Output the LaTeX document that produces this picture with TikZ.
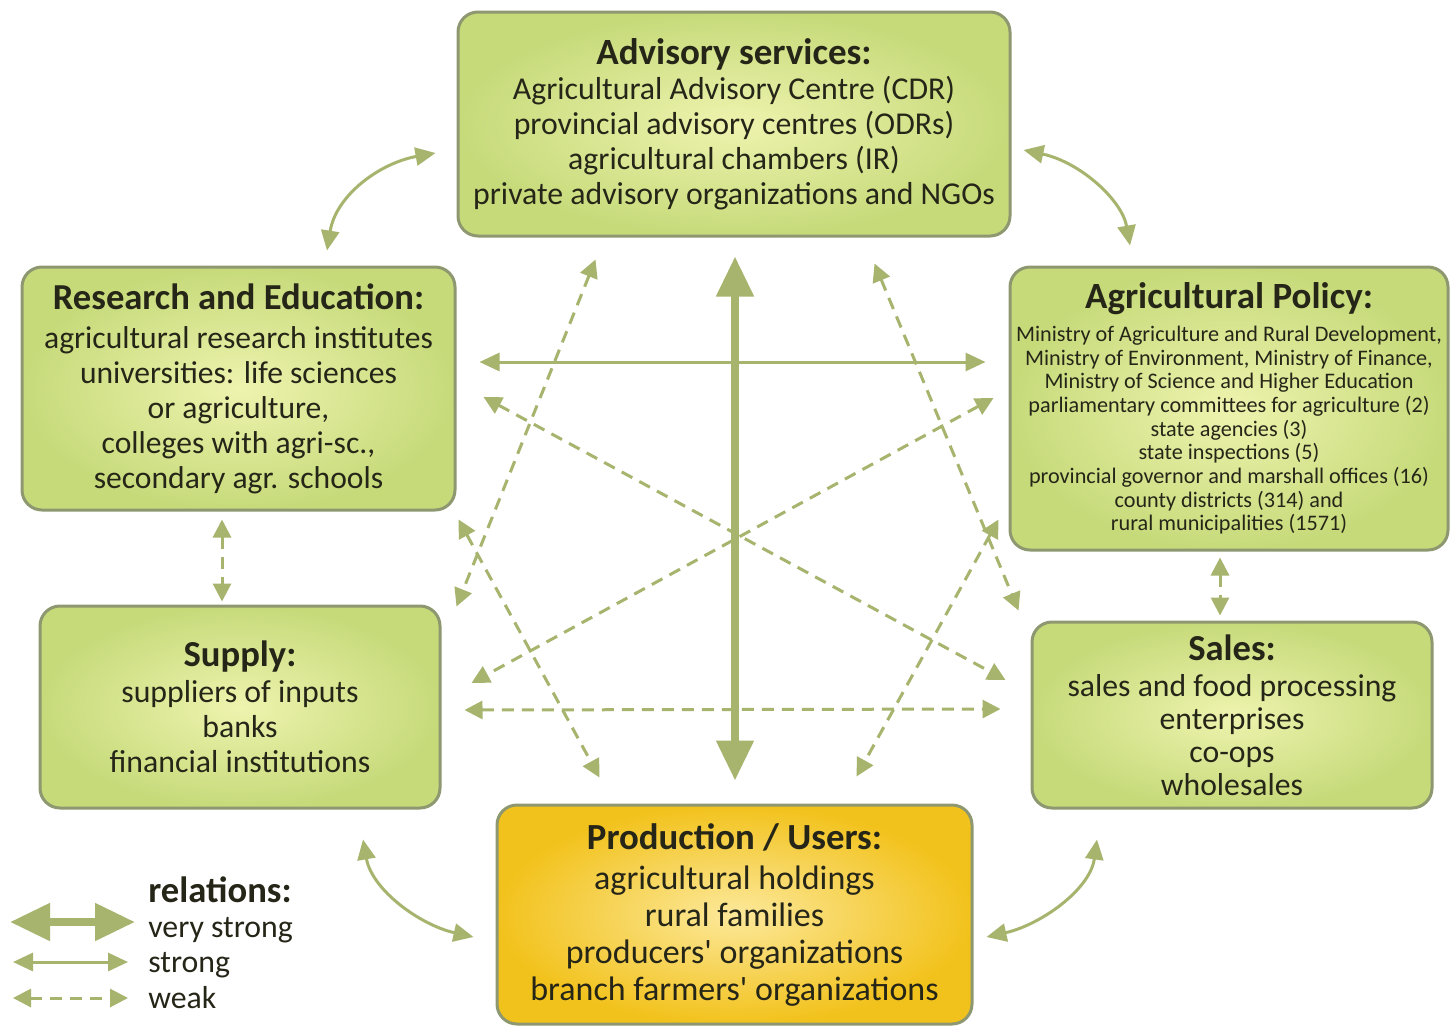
\documentclass[tikz,border=0pt]{standalone}
\usepackage{fontspec}
\setmainfont{Carlito}
\usetikzlibrary{arrows.meta,calc}
\definecolor{arr}{HTML}{A6B46E}
\definecolor{boxedge}{HTML}{8E9870}
\definecolor{boxin}{HTML}{EEF3AE}
\definecolor{boxout}{HTML}{C6DA7A}
\definecolor{prodin}{HTML}{FCE89A}
\definecolor{prodout}{HTML}{F2C21C}
\definecolor{txt}{HTML}{262618}
\newcommand{\apo}{\textquotesingle}
\begin{document}
\begin{tikzpicture}[x=0.5pt,y=-0.5pt,
  box/.style={draw=boxedge, line width=1.5pt, rounded corners=10pt, inner color=boxin, outer color=boxout, align=center, text=txt, inner sep=0pt},
  pbox/.style={box, inner color=prodin, outer color=prodout},
  vstrong/.style={draw=arr, line width=4pt, {Triangle[length=20pt,width=18pt]}-{Triangle[length=20pt,width=18pt]}},
  strong/.style={draw=arr, line width=1.5pt, {Triangle[length=10pt,width=9pt]}-{Triangle[length=10pt,width=9pt]}},
  weak/.style={draw=arr, line width=1.5pt, dash pattern=on 6pt off 4pt, {Triangle[length=9pt,width=9pt]}-{Triangle[length=9pt,width=9pt]}},
  lgtext/.style={anchor=west, text=txt, inner sep=0pt, font=\fontsize{15.9}{17}\selectfont}
]
\useasboundingbox (0,0) rectangle (1455,1028);
\fill[white] (0,0) rectangle (1455,1028);

% boxes
\node[box, minimum width=276pt, minimum height=112pt, font=\fontsize{15.9}{17.5}\selectfont] (adv) at (734,124)
 {{\bfseries\fontsize{18.5}{17.5}\selectfont Advisory services:}\\
  Agricultural Advisory Centre (CDR)\\
  provincial advisory centres (ODRs)\\
  agricultural chambers (IR)\\
  private advisory organizations and NGOs};

\node[box, minimum width=216.5pt, minimum height=121.5pt, font=\fontsize{15.8}{17.5}\selectfont] (res) at (238.5,388.5)
 {{\bfseries\fontsize{18.3}{17.5}\selectfont Research and Education:}\\[2pt]
  agricultural research institutes\\
  universities: life sciences\\
  or agriculture,\\
  colleges with agri-sc.,\\
  secondary agr. schools};

\node[box, minimum width=219pt, minimum height=141.5pt, font=\fontsize{11.1}{11.85}\selectfont] (pol) at (1229,408.5)
 {{\bfseries\fontsize{18.5}{17}\selectfont Agricultural Policy:}\\[4.6pt]
  Ministry of Agriculture and Rural Development,\\
  Ministry of Environment, Ministry of Finance,\\
  Ministry of Science and Higher Education\\
  parliamentary committees for agriculture (2)\\
  state agencies (3)\\
  state inspections (5)\\
  provincial governor and marshall offices (16)\\
  county districts (314) and\\
  rural municipalities (1571)};

\node[box, minimum width=200pt, minimum height=101pt, font=\fontsize{15.9}{17.5}\selectfont] (sup) at (240,707)
 {{\bfseries\fontsize{18.3}{17.5}\selectfont Supply:}\\[0.5pt]
  suppliers of inputs\\
  banks\\
  financial institutions};

\node[box, minimum width=200pt, minimum height=93pt, font=\fontsize{15.85}{16.5}\selectfont] (sal) at (1232,715)
 {{\bfseries\fontsize{18.3}{16.5}\selectfont Sales:}\\[1.5pt]
  sales and food processing\\
  enterprises\\
  co-ops\\
  wholesales};

\node[pbox, minimum width=237.5pt, minimum height=109.5pt, font=\fontsize{17}{18.5}\selectfont] (prod) at (734.5,914.5)
 {{\bfseries\fontsize{18.4}{18.5}\selectfont Production / Users:}\\[1.5pt]
  agricultural holdings\\
  rural families\\
  producers\apo{} organizations\\
  branch farmers\apo{} organizations};

% connectors
\draw[vstrong] ($(adv.south)+(1,19)$) -- ($(prod.north)+(0.5,-23)$);
\draw[strong] ($(res.east)+(23,-26.5)$) -- ($(pol.west)+(-23,-46.5)$);
\draw[weak] ($(sup.east)+(23,3)$) -- ($(sal.west)+(-30,-6)$);
\draw[weak] ($(res.east)+(27,8.5)$) -- ($(sal.west)+(-25,-35)$);
\draw[weak] ($(pol.west)+(-15,-10.5)$) -- ($(sup.east)+(30,-24)$);
\draw[weak] ($(adv.south west)+(139,22)$) -- ($(sup.north east)+(15,2)$);
\draw[weak] ($(adv.south east)+(-137,26)$) -- ($(sal.north west)+(-12,-10)$);
\draw[weak] ($(res.south east)+(2,8)$) -- ($(prod.north west)+(104,-26)$);
\draw[weak] ($(pol.south west)+(-10,-32)$) -- ($(prod.north east)+(-117,-27)$);
\draw[weak] ($(res.south)+(-16.5,8)$) -- ($(sup.north)+(-18,-3)$);
\draw[weak] ($(pol.south)+(-9,6)$) -- ($(sal.north)+(-12,-5)$);

\draw[strong] ($(res.north)+(88.5,-15)$) .. controls (336,195) and (380,163) .. ($(adv.west)+(-21,29)$);
\draw[strong] ($(adv.east)+(12,26)$) .. controls (1080,162) and (1122,200) .. ($(pol.north)+(-99,-20)$);
\draw[strong] ($(sup.south)+(123,30)$) .. controls (372,890) and (420,925) .. ($(prod.west)+(-22,22.5)$);
\draw[strong] ($(sal.south)+(-135,30)$) .. controls (1090,890) and (1040,925) .. ($(prod.east)+(13,22.5)$);

% legend
\coordinate (l1a) at (10,922); \coordinate (l1b) at (135,922);
\coordinate (l2a) at (13,962); \coordinate (l2b) at (128,962);
\coordinate (l3a) at (13,998); \coordinate (l3b) at (128,998);
\draw[vstrong] (l1a) -- (l1b);
\draw[strong] (l2a) -- (l2b);
\draw[weak] (l3a) -- (l3b);
\node[lgtext, font=\bfseries\fontsize{18.3}{19}\selectfont] (lgt) at (148,890) {relations:};
\node[lgtext] (lg1) at (148,930) {very strong};
\node[lgtext] (lg2) at (148,965) {strong};
\node[lgtext] (lg3) at (148,998) {weak};
\end{tikzpicture}
\end{document}
